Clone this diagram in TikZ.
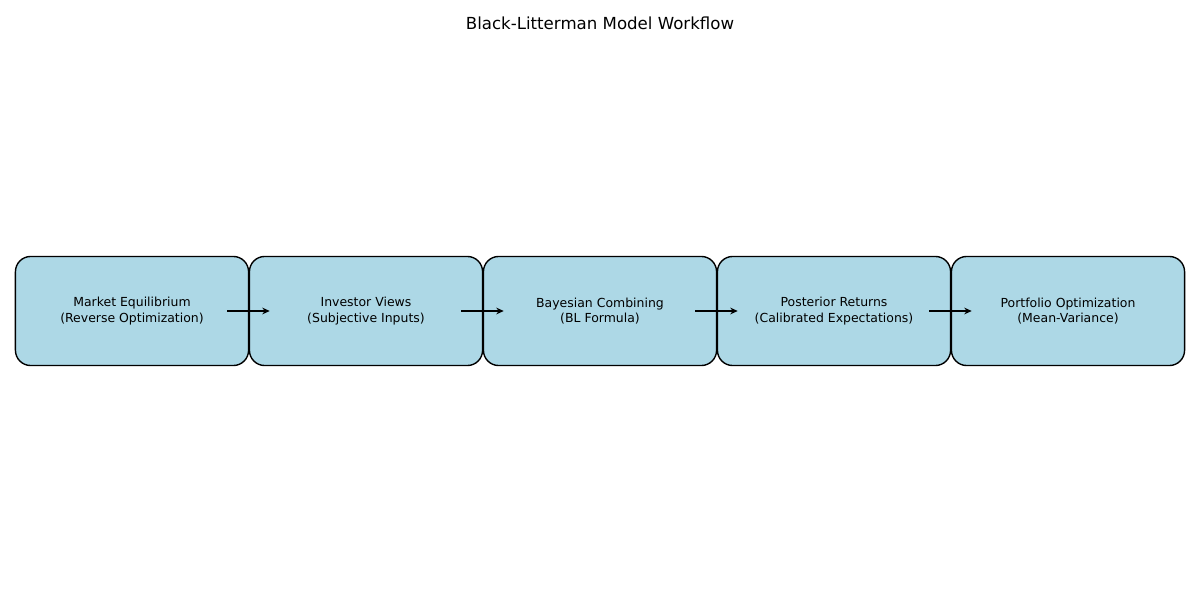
\documentclass[tikz,border=0pt]{standalone}
\usepackage{fontspec}
\setmainfont{DejaVu Sans}
\usepackage{tikz}
\usetikzlibrary{calc,positioning,arrows.meta}
\definecolor{boxblue}{RGB}{173,216,230}
\tikzset{
  stagebox/.style={draw=black,line width=1pt,rounded corners=11pt,fill=boxblue,align=center,
              font=\fontsize{9}{11}\selectfont,minimum width=2.33in,minimum height=1.09in,inner sep=2pt},
  arr/.style={-{Stealth[length=1.9mm,width=1.7mm]},line width=1.4pt,black}
}
\begin{document}
\begin{tikzpicture}[x=0.01in,y=-0.01in]
  \useasboundingbox (0,0) rectangle (1200,600);
  \node[font=\fontsize{12}{14}\selectfont] (title) at (600,23) {Black-Litterman Model Workflow};
  \foreach \i/\x/\txt in {1/132/{Market Equilibrium\\(Reverse Optimization)},
                          2/366/{Investor Views\\(Subjective Inputs)},
                          3/600/{Bayesian Combining\\(BL Formula)},
                          4/834/{Posterior Returns\\(Calibrated Expectations)},
                          5/1068/{Portfolio Optimization\\(Mean-Variance)}}
    \node[stagebox] (b\i) at (\x,311) {\txt};
  \foreach \i/\j in {1/2,2/3,3/4,4/5}
    \draw[arr] ($(b\i.east)+(-22,0)$) -- ($(b\j.west)+(21,0)$);
\end{tikzpicture}
\end{document}
